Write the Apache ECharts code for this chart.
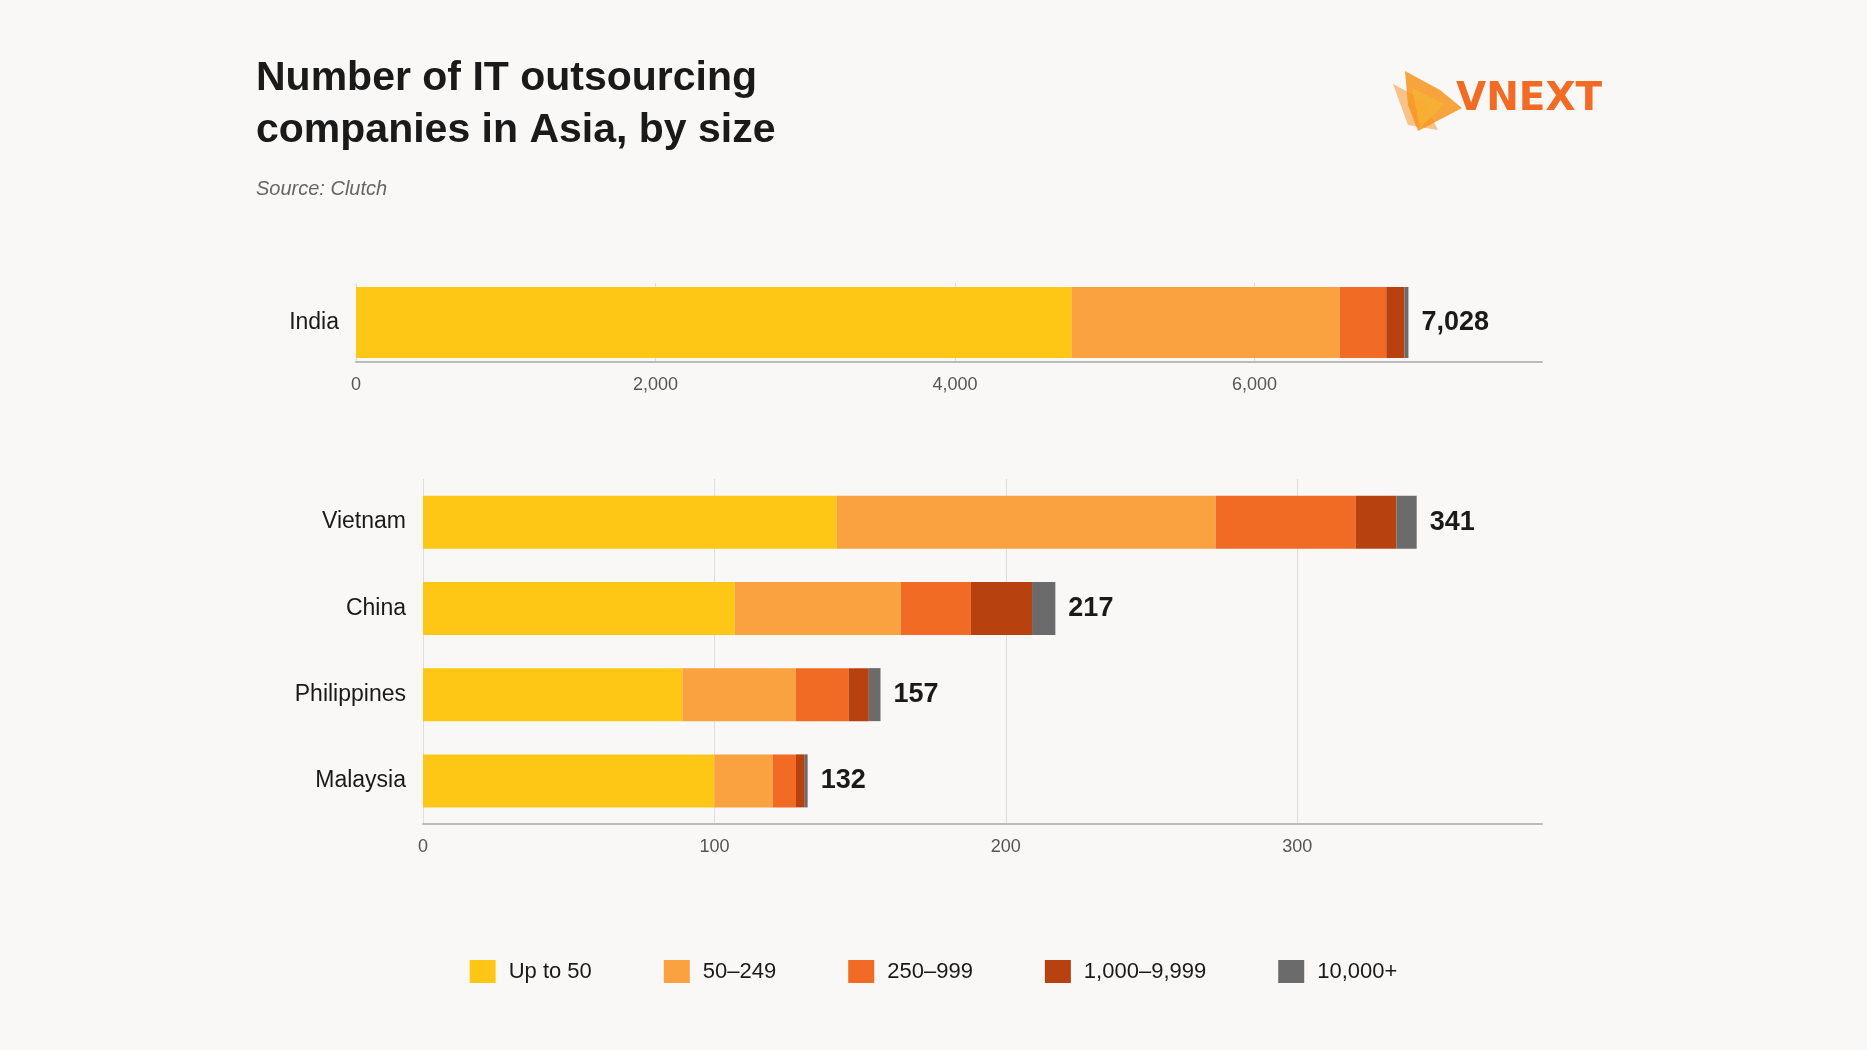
<!DOCTYPE html>
<html>
<head>
<meta charset="utf-8">
<script src="https://cdn.jsdelivr.net/npm/echarts@6/dist/echarts.min.js"></script>
<style>
  html, body { margin: 0; padding: 0; background: #f9f8f6; }
  #chart { width: 1867px; height: 1050px; }
</style>
</head>
<body>
<div id="chart"></div>
<script>
// data
var sizeNames = ['Up to 50', '50–249', '250–999', '1,000–9,999', '10,000+'];
var sizeColors = ['#ffc715', '#f9a23f', '#f26b24', '#b8420f', '#6b6b6b'];

var topCountries = ['India'];
var topValues = [[4780], [1790], [310], [122], [26]];

var countries = ['Vietnam', 'China', 'Philippines', 'Malaysia'];
var values = [
    [142, 107, 89, 100],
    [130, 57, 39, 20],
    [48, 24, 18, 8],
    [14, 21, 7, 3],
    [7, 8, 4, 1]
];

function totals(vals, n) {
    var t = [];
    for (var i = 0; i < n; i++) {
        var s = 0;
        for (var k = 0; k < vals.length; k++) s += vals[k][i];
        t.push(s);
    }
    return t;
}
var topTotals = totals(topValues, topCountries.length);
var bottomTotals = totals(values, countries.length);

var chart = echarts.init(document.getElementById('chart'));

var axisLabelStyle = { color: '#555', fontSize: 18, fontFamily: 'Liberation Sans', margin: 14 };
var catLabelStyle = { color: '#1a1a1a', fontSize: 23, fontFamily: 'Liberation Sans', margin: 17 };

var series = [];
function addSeries(vals, tots, axisIdx, barW) {
    for (var k = 0; k < sizeNames.length; k++) {
        var s = {
            name: sizeNames[k],
            type: 'bar',
            stack: 'stack' + axisIdx,
            xAxisIndex: axisIdx,
            yAxisIndex: axisIdx,
            barWidth: barW,
            itemStyle: { color: sizeColors[k] },
            data: vals[k]
        };
        if (k === sizeNames.length - 1) {
            s.label = {
                show: true,
                position: 'right',
                distance: 13,
                color: '#1a1a1a',
                fontSize: 27,
                fontWeight: 'bold',
                fontFamily: 'Liberation Sans',
                formatter: function (p) { return tots[p.dataIndex].toLocaleString('en-US'); }
            };
        }
        series.push(s);
    }
}
addSeries(topValues, topTotals, 0, 71);
addSeries(values, bottomTotals, 1, 53);

var option = {
    backgroundColor: '#f9f8f6',
    animation: false,
    title: {
        text: 'Number of IT outsourcing\ncompanies in Asia, by size',
        subtext: 'Source: Clutch',
        left: 251,
        top: 48,
        itemGap: 22,
        textStyle: { color: '#1a1a1a', fontSize: 41, fontWeight: 'bold', fontFamily: 'Liberation Sans', lineHeight: 52 },
        subtextStyle: { color: '#666', fontSize: 20, fontStyle: 'italic', fontFamily: 'Liberation Sans' }
    },
    legend: {
        data: sizeNames,
        left: 'center',
        top: 955,
        itemWidth: 26,
        itemHeight: 23,
        itemGap: 72,
        icon: 'rect',
        textStyle: { color: '#1a1a1a', fontSize: 22, fontFamily: 'Liberation Sans', padding: [0, 0, 0, 8] }
    },
    grid: [
        { left: 356, right: 325, top: 283, height: 79 },
        { left: 423, right: 325, top: 479, height: 345 }
    ],
    xAxis: [
        {
            type: 'value', gridIndex: 0, min: 0, max: 7920, interval: 2000,
            axisLine: { show: true, lineStyle: { color: '#bbb', width: 2 } },
            axisTick: { show: false },
            splitLine: { showMaxLine: false, lineStyle: { color: '#ddd' } },
            axisLabel: Object.assign({}, axisLabelStyle, {
                showMaxLabel: false,
                formatter: function (v) { return v % 2000 === 0 ? v.toLocaleString('en-US') : ''; }
            })
        },
        {
            type: 'value', gridIndex: 1, min: 0, max: 384, interval: 100,
            axisLine: { show: true, lineStyle: { color: '#bbb', width: 2 } },
            axisTick: { show: false },
            splitLine: { showMaxLine: false, lineStyle: { color: '#ddd' } },
            axisLabel: Object.assign({}, axisLabelStyle, {
                showMaxLabel: false,
                formatter: function (v) { return v % 100 === 0 ? String(v) : ''; }
            })
        }
    ],
    yAxis: [
        {
            type: 'category', gridIndex: 0, data: topCountries, inverse: true,
            axisLine: { show: false }, axisTick: { show: false }, axisLabel: catLabelStyle
        },
        {
            type: 'category', gridIndex: 1, data: countries, inverse: true,
            axisLine: { show: false }, axisTick: { show: false }, axisLabel: catLabelStyle
        }
    ],
    graphic: [
        { type: 'polygon', shape: { points: [[1393, 84], [1423, 100], [1438, 130], [1408, 125]] }, style: { fill: '#f9b46a', opacity: 0.8 } },
        { type: 'polygon', shape: { points: [[1405, 71], [1440, 90], [1462, 108], [1418, 131], [1408, 105]] }, style: { fill: '#f7941d', opacity: 0.85 } },
        { type: 'polygon', shape: { points: [[1412, 88], [1445, 104], [1420, 128]] }, style: { fill: '#f5b335', opacity: 0.8 } },
        {
            type: 'text', left: 1456, top: 80,
            style: { text: 'VNEXT', fill: '#f26b24', font: 'bold 39px "DejaVu Sans"' }
        }
    ],
    series: series
};

chart.setOption(option);
</script>
</body>
</html>
